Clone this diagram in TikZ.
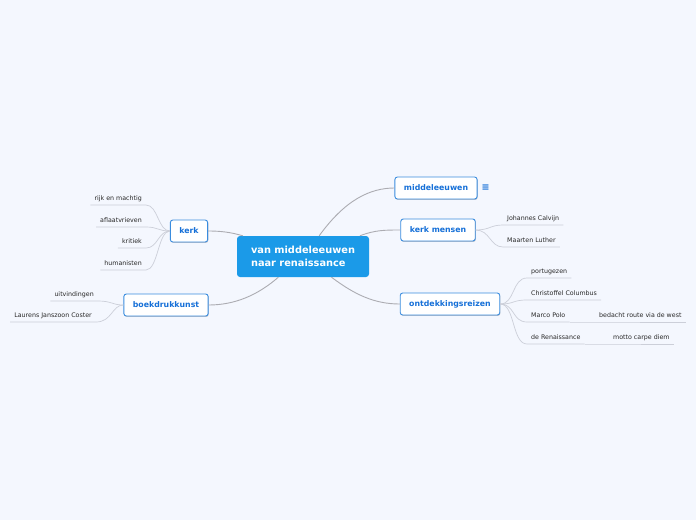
\documentclass[tikz,border=0pt]{standalone}
\usepackage{fontspec}
\setmainfont{DejaVu Sans}
\usetikzlibrary{positioning,shadows}
\definecolor{bgcol}{RGB}{244,247,254}
\definecolor{rootblue}{RGB}{27,154,232}
\definecolor{topicline}{RGB}{58,140,222}
\definecolor{topictext}{RGB}{22,112,216}
\definecolor{subtext}{RGB}{40,40,40}
\definecolor{linkgray}{RGB}{172,172,178}
\definecolor{twiggray}{RGB}{204,207,217}
\begin{document}
\begin{tikzpicture}[x=1pt,y=-1pt,
  root/.style={fill=rootblue,text=white,rounded corners=3pt,align=left,
    font=\bfseries\fontsize{9.8}{13}\selectfont,minimum width=132pt,minimum height=41pt},
  topic/.style={draw=topicline,line width=0.9pt,fill=white,rounded corners=2.5pt,
    text=topictext,font=\bfseries\fontsize{7.8}{9}\selectfont,minimum height=22pt,inner xsep=9pt,
    drop shadow={shadow xshift=0.6pt,shadow yshift=-0.9pt,fill=black,opacity=0.22}},
  sub/.style={text=subtext,font=\fontsize{6.3}{7}\selectfont,inner xsep=4pt,inner ysep=2.5pt,
    text height=4.6pt,text depth=1.4pt},
  link/.style={draw=linkgray,line width=0.9pt},
  twig/.style={draw=twiggray,line width=0.7pt}]
\fill[bgcol] (0,0) rectangle (696,520);
\useasboundingbox (0,0) rectangle (696,520);
\node[root] (root) at (303,256.5) {van middeleeuwen\\naar renaissance};
\node[topic] (middel) at (436,188) {middeleeuwen};
\node[topic] (kerkm) at (438,230) {kerk mensen};
\node[topic] (ontdek) at (450,304) {ontdekkingsreizen};
\node[topic] (kerk) at (189,231) {kerk};
\node[topic] (boek) at (166,305) {boekdrukkunst};
\node[text=topictext,font=\bfseries\fontsize{9.5}{9.5}\selectfont,inner sep=0pt,right=4pt of middel] (note) {≡};
\draw[link] (root.52) .. controls (345,200) and (370,188) .. (middel.west);
\draw[link] (root.20) .. controls (375,230) and (385,230) .. (kerkm.west);
\draw[link] (root.-36) .. controls (355,295) and (375,304) .. (ontdek.west);
\draw[link] (root.161) .. controls (230,232) and (220,231) .. (kerk.east);
\draw[link] (root.220) .. controls (258,295) and (235,305) .. (boek.east);
\node[sub,anchor=south east] (rijk) at (146,205) {rijk en machtig};
\node[sub,anchor=south east] (aflaat) at (146,227) {aflaatvrieven};
\node[sub,anchor=south east] (kritiek) at (146,248) {kritiek};
\node[sub,anchor=south east] (human) at (146,270) {humanisten};
\foreach \n/\y in {rijk/205,aflaat/227,kritiek/248,human/270}
  \draw[twig] (kerk.west) .. controls (158,231) and (158,\y) .. (\n.south east) -- (\n.south west);
\node[sub,anchor=south east] (uitvind) at (98,301) {uitvindingen};
\node[sub,anchor=south east] (coster) at (96,322) {Laurens Janszoon Coster};
\foreach \n/\y in {uitvind/301,coster/322}
  \draw[twig] (boek.west) .. controls (112,305) and (112,\y) .. (\n.south east) -- (\n.south west);
\node[sub,anchor=south west] (calvijn) at (503,225) {Johannes Calvijn};
\node[sub,anchor=south west] (luther) at (503,247) {Maarten Luther};
\foreach \n/\y in {calvijn/225,luther/247}
  \draw[twig] (kerkm.east) .. controls (490,230) and (490,\y) .. (\n.south west) -- (\n.south east);
\node[sub,anchor=south west] (portug) at (527,278) {portugezen};
\node[sub,anchor=south west] (columbus) at (527,300) {Christoffel Columbus};
\node[sub,anchor=south west] (polo) at (527,322) {Marco Polo};
\node[sub,anchor=south west] (renais) at (527,344) {de Renaissance};
\foreach \n/\y in {portug/278,columbus/300,polo/322,renais/344}
  \draw[twig] (ontdek.east) .. controls (515,304) and (512,\y) .. (\n.south west) -- (\n.south east);
\node[sub,anchor=south west] (west) at (595,322) {bedacht route via de west};
\node[sub,anchor=south west] (carpe) at (609,344) {motto carpe diem};
\draw[twig] (polo.south east) -- (west.south west) -- (west.south east);
\draw[twig] (renais.south east) -- (carpe.south west) -- (carpe.south east);
\end{tikzpicture}
\end{document}
